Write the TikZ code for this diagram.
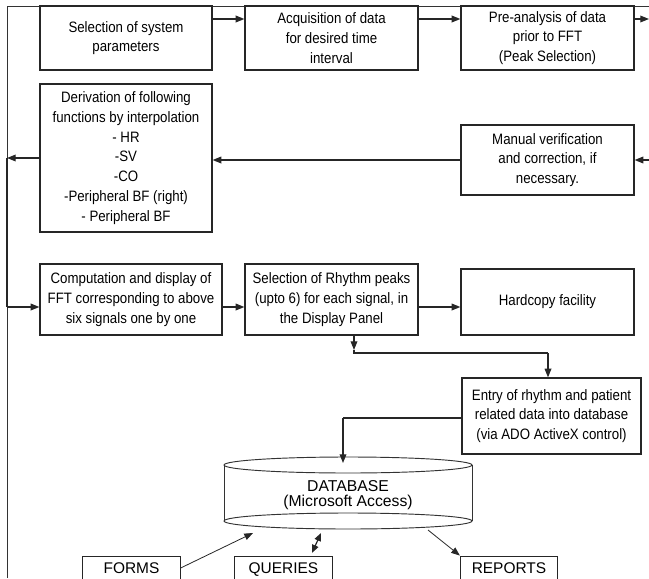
\documentclass[tikz,border=0pt]{standalone}
\usepackage{fontspec}
\setmainfont{Liberation Sans}
\newfontfamily\boxfont[FakeStretch=0.88]{Liberation Sans}
\usetikzlibrary{arrows.meta}

\tikzset{
    blk/.style={draw=black!85, line width=0.9pt, align=center, inner sep=0pt,
        font=\boxfont\fontsize{11.3}{14.8}\selectfont},
    dbbox/.style={draw=black!85, line width=0.7pt, align=center, inner sep=0pt,
        minimum width=73pt, minimum height=21pt, text height=8.4pt, text depth=2.6pt,
        font=\fontsize{11.6}{13}\selectfont},
    conn/.style={line width=0.9pt, black!85},
    arr/.style={conn, -{Triangle[length=6.5pt,width=5pt]}},
    frm/.style={line width=0.7pt, black!80},
}

\begin{document}
\begin{tikzpicture}[x=0.75pt, y=-0.75pt]
    \useasboundingbox (0,0) rectangle (649,578);
    \clip (0,0) rectangle (649,578);

    \draw[frm] (7,578) -- (7,6) -- (649,6);

    \node[blk, minimum width=129pt, minimum height=48pt] (selpar) at (126,38) {Selection of system\\parameters};
    \node[blk, minimum width=129.75pt, minimum height=48pt] (acq) at (331.5,38) {Acquisition of data\\for desired time\\interval};
    \node[blk, minimum width=129.75pt, minimum height=48pt] (pre) at (547.5,38) {Pre-analysis of data\\prior to FFT\\(Peak Selection)};

    \node[blk, minimum width=129pt, minimum height=111pt] (deriv) at (126,158) {Derivation of following\\functions by interpolation\\- HR\\-SV\\-CO\\-Peripheral BF (right)\\- Peripheral BF};
    \node[blk, minimum width=129.75pt, minimum height=52.5pt] (manual) at (547.5,160) {Manual verification\\and correction, if\\necessary.};

    \node[blk, minimum width=136.5pt, minimum height=53.25pt] (comp) at (131,299.5) {Computation and display of\\FFT corresponding to above\\six signals one by one};
    \node[blk, minimum width=129.75pt, minimum height=53.25pt] (rhythm) at (331.5,299.5) {Selection of Rhythm peaks\\(upto 6) for each signal, in\\the Display Panel};
    \node[blk, minimum width=129.75pt, minimum height=49.5pt] (hard) at (547.5,302) {Hardcopy facility};

    \node[blk, minimum width=134.25pt, minimum height=57pt] (entry) at (551.5,416) {Entry of rhythm and patient\\related data into database\\(via ADO ActiveX control)};

    \draw[frm] (224,465) -- (224,521) (472,465) -- (472,521);
    \draw[frm] (348,465) ellipse [x radius=93pt, y radius=6pt];
    \draw[frm] (348,521) ellipse [x radius=93pt, y radius=6pt];
    \node[align=center, inner sep=0pt, font=\fontsize{11.8}{11.3}\selectfont] (db) at (348,495) {DATABASE\\(Microsoft Access)};

    \node[dbbox] (forms) at (131.5,570) {FORMS};
    \node[dbbox] (queries) at (283.5,570) {QUERIES};
    \node[dbbox] (reports) at (509,570) {REPORTS};

    \coordinate (rowA) at (7,19);
    \coordinate (outR) at (649,19);
    \draw[arr] (selpar.east |- rowA) -- (acq.west |- rowA);
    \draw[arr] (acq.east |- rowA) -- (pre.west |- rowA);
    \draw[arr] (pre.east |- outR) -- (outR);

    \coordinate (inR) at (649,160);
    \draw[arr] (inR) -- (manual.east);
    \draw[arr] (manual.west) -- (manual.west -| deriv.east);

    \coordinate (lpA) at (7,158);
    \coordinate (lpB) at (7,307);
    \draw[arr] (deriv.west) -- (lpA);
    \draw[conn, line width=1.3pt] (lpA) -- (lpB);
    \draw[arr] (lpB) -- (comp.west |- lpB);
    \draw[arr] (comp.east |- lpB) -- (rhythm.west |- lpB);
    \draw[arr] (rhythm.east |- lpB) -- (hard.west |- lpB);

    \coordinate (dnA) at (354,350);
    \coordinate (dnB) at (548,353);
    \draw[arr] (rhythm.south -| dnA) -- (dnA);
    \draw[conn] (dnA) -- (dnA |- dnB) -- (dnB);
    \draw[arr] (dnB) -- (entry.north -| dnB);

    \coordinate (enA) at (343,418);
    \coordinate (dbIn) at (343,463);
    \draw[conn] (entry.west |- enA) -- (enA);
    \draw[arr] (enA) -- (dbIn);

    \coordinate (dbF) at (253,533);
    \coordinate (dbQ) at (321,533);
    \coordinate (dbR) at (428,530);
    \draw[arr, line width=0.6pt] ([yshift=1.5pt]forms.east) -- (dbF);
    \draw[conn, {Triangle[length=6pt,width=5pt]}-{Triangle[length=6pt,width=5pt]}] ([xshift=21.4pt,yshift=2pt]queries.north) -- (dbQ);
    \draw[arr, line width=0.6pt] (dbR) -- (reports.north west);
\end{tikzpicture}
\end{document}
